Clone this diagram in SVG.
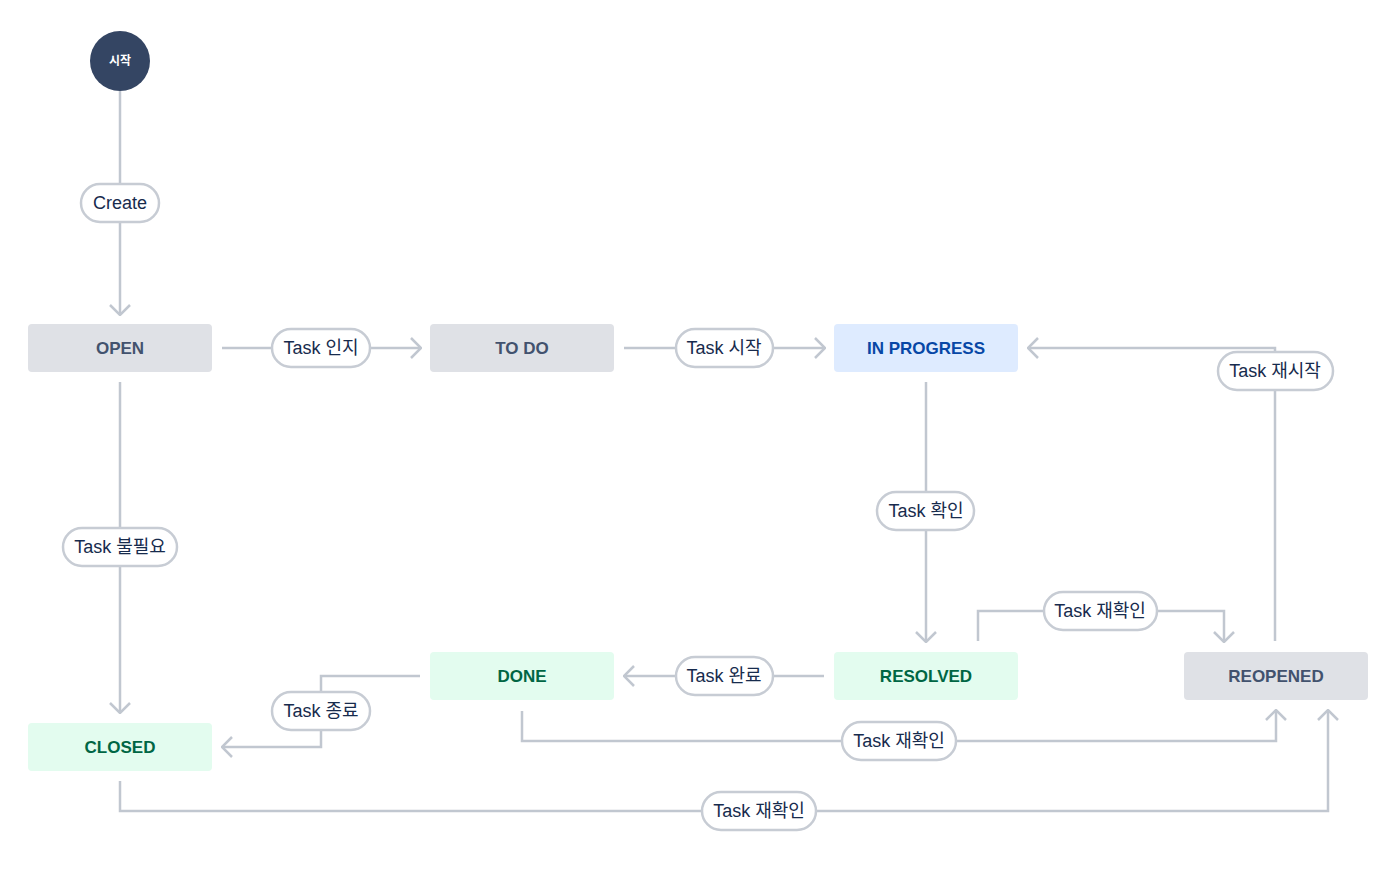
<svg xmlns="http://www.w3.org/2000/svg" width="1400" height="870" viewBox="0 0 1400 870">
<style>
.conn{fill:none;stroke:#c1c7d0;stroke-width:2.5;}
.pill rect{fill:#ffffff;stroke:#c7ccd4;stroke-width:2.5;}
.pill text{font-family:"Liberation Sans","Noto Sans CJK KR",sans-serif;font-size:18px;fill:#172b4d;text-anchor:middle;dominant-baseline:central;}
.box text{font-family:"Liberation Sans","Noto Sans CJK KR",sans-serif;font-size:17px;font-weight:bold;text-anchor:middle;dominant-baseline:central;}
.gray rect{fill:#dfe1e6;}
.gray text{fill:#42526e;}
.blue rect{fill:#deebff;}
.blue text{fill:#0747a6;}
.green rect{fill:#e3fcef;}
.green text{fill:#006644;}
</style>
<defs>
<marker id="arr" viewBox="0 0 12 22" refX="11" refY="11" markerWidth="12" markerHeight="22" markerUnits="userSpaceOnUse" orient="auto">
<path d="M1,1 L11,11 L1,21" fill="none" stroke="#c1c7d0" stroke-width="2.5"/>
</marker>
</defs>
<rect width="1400" height="870" fill="#ffffff"/>
<g id="connectors">
<path class="conn" d="M120,91 V315" marker-end="url(#arr)"/>
<path class="conn" d="M222,348 H421" marker-end="url(#arr)"/>
<path class="conn" d="M624,348 H825" marker-end="url(#arr)"/>
<path class="conn" d="M1275,641 V348 H1028" marker-end="url(#arr)"/>
<path class="conn" d="M926,382 V642" marker-end="url(#arr)"/>
<path class="conn" d="M978,641 V611 H1224 V642" marker-end="url(#arr)"/>
<path class="conn" d="M824,676 H624" marker-end="url(#arr)"/>
<path class="conn" d="M420,676 H321 V747 H222" marker-end="url(#arr)"/>
<path class="conn" d="M522,711 V741 H1276 V710" marker-end="url(#arr)"/>
<path class="conn" d="M120,781 V811 H1328 V710" marker-end="url(#arr)"/>
<path class="conn" d="M120,382 V713" marker-end="url(#arr)"/>
</g>
<g id="labels">
<g class="pill" id="lbl-create"><rect x="81" y="184" width="78" height="38" rx="19"/><text x="120" y="203">Create</text></g>
<g class="pill" id="lbl-ack"><rect x="272" y="329" width="98" height="38" rx="19"/><text x="321" y="348">Task 인지</text></g>
<g class="pill" id="lbl-start"><rect x="676" y="329" width="97" height="38" rx="19"/><text x="724" y="348">Task 시작</text></g>
<g class="pill" id="lbl-restart"><rect x="1218" y="352" width="115" height="38" rx="19"/><text x="1275" y="371">Task 재시작</text></g>
<g class="pill" id="lbl-check"><rect x="877" y="492" width="97" height="38" rx="19"/><text x="926" y="511">Task 확인</text></g>
<g class="pill" id="lbl-recheck1"><rect x="1044" y="592" width="113" height="38" rx="19"/><text x="1100" y="611">Task 재확인</text></g>
<g class="pill" id="lbl-complete"><rect x="676" y="657" width="97" height="38" rx="19"/><text x="724" y="676">Task 완료</text></g>
<g class="pill" id="lbl-end"><rect x="272" y="692" width="98" height="38" rx="19"/><text x="321" y="711">Task 종료</text></g>
<g class="pill" id="lbl-recheck2"><rect x="842" y="722" width="114" height="38" rx="19"/><text x="899" y="741">Task 재확인</text></g>
<g class="pill" id="lbl-recheck3"><rect x="702" y="792" width="114" height="38" rx="19"/><text x="759" y="811">Task 재확인</text></g>
<g class="pill" id="lbl-unneeded"><rect x="63" y="528" width="114" height="38" rx="19"/><text x="120" y="547">Task 불필요</text></g>
</g>
<g id="start">
<circle cx="120" cy="61" r="30" fill="#344563"/>
<text x="120" y="61" font-family="'Liberation Sans','Noto Sans CJK KR',sans-serif" font-size="12" font-weight="bold" fill="#ffffff" text-anchor="middle" dominant-baseline="central">시작</text>
</g>
<g id="open" class="box gray"><rect x="28" y="324" width="184" height="48" rx="4"/><text x="120" y="348">OPEN</text></g>
<g id="todo" class="box gray"><rect x="430" y="324" width="184" height="48" rx="4"/><text x="522" y="348">TO DO</text></g>
<g id="inprogress" class="box blue"><rect x="834" y="324" width="184" height="48" rx="4"/><text x="926" y="348">IN PROGRESS</text></g>
<g id="resolved" class="box green"><rect x="834" y="652" width="184" height="48" rx="4"/><text x="926" y="676">RESOLVED</text></g>
<g id="reopened" class="box gray"><rect x="1184" y="652" width="184" height="48" rx="4"/><text x="1276" y="676">REOPENED</text></g>
<g id="done" class="box green"><rect x="430" y="652" width="184" height="48" rx="4"/><text x="522" y="676">DONE</text></g>
<g id="closed" class="box green"><rect x="28" y="723" width="184" height="48" rx="4"/><text x="120" y="747">CLOSED</text></g>
</svg>
